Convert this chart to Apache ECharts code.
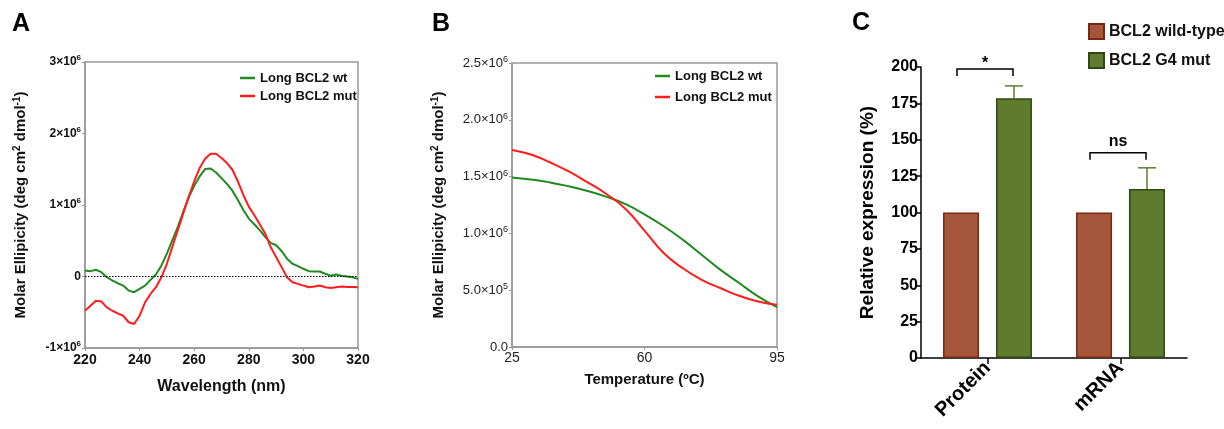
<!DOCTYPE html>
<html>
<head>
<meta charset="utf-8">
<script src="https://cdn.jsdelivr.net/npm/echarts@6/dist/echarts.min.js"></script>
<style>
html,body{margin:0;padding:0;background:#fff;}
#c{width:1224px;height:429px;}
</style>
</head>
<body>
<div id="c"></div>
<script>
// ---------- DATA ----------
// Panel A: CD spectra (values in units of 10^6 deg cm2 dmol-1)
const wavelengths = [220,222,224,226,228,230,232,234,236,238,240,242,244,246,248,250,252,254,256,258,260,262,264,266,268,270,272,274,276,278,280,282,284,286,288,290,292,294,296,298,300,302,304,306,308,310,312,314,316,318,320];
const cdWt  = [0.085,0.075,0.094,0.06,-0.01,-0.056,-0.094,-0.127,-0.197,-0.22,-0.174,-0.127,-0.047,0.028,0.155,0.32,0.507,0.695,0.906,1.108,1.268,1.40,1.502,1.51,1.455,1.376,1.296,1.20,1.07,0.93,0.81,0.73,0.648,0.554,0.47,0.437,0.357,0.249,0.178,0.146,0.108,0.075,0.07,0.07,0.038,0.01,0.028,0.01,0.0,-0.01,-0.033];
const cdMut = [-0.479,-0.408,-0.338,-0.35,-0.432,-0.479,-0.516,-0.549,-0.64,-0.665,-0.549,-0.362,-0.244,-0.15,-0.01,0.178,0.413,0.648,0.883,1.117,1.329,1.516,1.648,1.718,1.718,1.657,1.587,1.493,1.329,1.14,0.977,0.859,0.732,0.60,0.413,0.272,0.131,-0.01,-0.08,-0.103,-0.127,-0.15,-0.141,-0.127,-0.15,-0.16,-0.15,-0.141,-0.146,-0.146,-0.15];
// Panel B: melting curves (units of 10^6)
const temperatures = [25,30,35,40,45,50,55,60,65,70,75,80,85,90,95];
const meltWt  = [1.493,1.475,1.449,1.415,1.374,1.322,1.257,1.168,1.065,0.947,0.814,0.681,0.563,0.445,0.351];
const meltMut = [1.735,1.695,1.626,1.545,1.449,1.345,1.215,1.025,0.829,0.696,0.593,0.519,0.451,0.401,0.372];
// Panel C: relative expression
const exprCategories = ['Protein','mRNA'];
const exprWt  = [100,100];
const exprMut = [178.5,116.2];
const exprMutErr = [8.5,14.5];
const sigLabels = ['*','ns'];
const sigBracketY = [198.6,141];
const sigTextY = [202,148.5];
const seriesNamesAB = ['Long BCL2 wt','Long BCL2 mut'];
const seriesNamesC = ['BCL2 wild-type','BCL2 G4 mut'];

// ---------- STYLE ----------
const FONT = '"Liberation Sans", Arial, Helvetica, sans-serif';
const GREEN = '#1f8a1f', RED = '#ff1c1c';
const WT_FILL = '#a5563b', WT_EDGE = '#7a2812';
const MUT_FILL = '#5e7b2e', MUT_EDGE = '#2e4a12';
const BAR_W = 36, BAR_GAP = 17;
const BAR_OFF = (BAR_W + BAR_GAP) / 2;

function sciLabel(bold, fixed) {
  return function (v) {
    const real = v * 1e6;
    if (Math.abs(real) < 1e-9) return fixed ? '{b|0.0}' : '{b|0}';
    const e = Math.floor(Math.log10(Math.abs(real)) + 1e-9);
    const m = real / Math.pow(10, e);
    const ms = fixed ? m.toFixed(1) : String(Math.round(m * 100) / 100);
    return '{b|' + ms + '×10}{s|' + e + '}';
  };
}
function richLab(bold, size, color) {
  return {
    b: {fontFamily: FONT, fontSize: size, fontWeight: bold ? 'bold' : 'normal', color: color, lineHeight: 16},
    s: {fontFamily: FONT, fontSize: size - 4, fontWeight: bold ? 'bold' : 'normal', color: color, lineHeight: 8, verticalAlign: 'top'}
  };
}
const yNameRich = {s: {fontFamily: FONT, fontSize: 10, fontWeight: 'bold', color: '#111', lineHeight: 8, verticalAlign: 'top'}};

const chart = echarts.init(document.getElementById('c'), null, {renderer: 'canvas'});
const titleStyle = {fontFamily: FONT, fontSize: 25, fontWeight: 'bold', color: '#000'};
const option = {
  animation: false,
  textStyle: {fontFamily: FONT},
  title: [
    {text: 'A', left: 12, top: 12, padding: 0, textStyle: titleStyle},
    {text: 'B', left: 432, top: 12, padding: 0, textStyle: titleStyle},
    {text: 'C', left: 852, top: 11, padding: 0, textStyle: titleStyle}
  ],
  legend: [
    {data: seriesNamesAB, left: 240, top: 71, padding: 0, orient: 'vertical', icon: 'rect', itemWidth: 15, itemHeight: 2.5, itemGap: 4,
     textStyle: {fontFamily: FONT, fontSize: 13, fontWeight: 'bold', color: '#111', lineHeight: 14}},
    {data: seriesNamesAB, left: 655, top: 69, padding: 0, orient: 'vertical', icon: 'rect', itemWidth: 15, itemHeight: 2.5, itemGap: 7,
     textStyle: {fontFamily: FONT, fontSize: 13, fontWeight: 'bold', color: '#111', lineHeight: 14}},
    {data: seriesNamesC, left: 1088, top: 23, padding: 0, orient: 'vertical', icon: 'rect', itemWidth: 15, itemHeight: 15, itemGap: 12,
     textStyle: {fontFamily: FONT, fontSize: 16, fontWeight: 'bold', color: '#111', lineHeight: 15}}
  ],
  grid: [
    {left: 85, top: 62, width: 273, height: 286, show: true, borderColor: '#999', borderWidth: 1.5, backgroundColor: 'transparent'},
    {left: 512, top: 63, width: 265, height: 284, show: true, borderColor: '#999', borderWidth: 1.5, backgroundColor: 'transparent'},
    {left: 921, top: 67, width: 266, height: 291}
  ],
  xAxis: [
    {gridIndex: 0, type: 'value', min: 220, max: 320, interval: 20,
     axisLine: {show: true, onZero: false, lineStyle: {color: '#999', width: 1.5}},
     axisTick: {show: true, length: 3, lineStyle: {color: '#999'}},
     splitLine: {show: false},
     axisLabel: {fontFamily: FONT, fontSize: 14, fontWeight: 'bold', color: '#111', margin: 5},
     name: 'Wavelength (nm)', nameLocation: 'middle', nameGap: 31,
     nameTextStyle: {fontFamily: FONT, fontSize: 16, fontWeight: 'bold', color: '#111'}},
    {gridIndex: 1, type: 'value', min: 25, max: 95, interval: 35,
     axisLine: {show: true, onZero: false, lineStyle: {color: '#999', width: 1.5}},
     axisTick: {show: true, length: 3, lineStyle: {color: '#999'}},
     splitLine: {show: false},
     axisLabel: {fontFamily: FONT, fontSize: 14, color: '#222', margin: 4},
     name: 'Temperature (ºC)', nameLocation: 'middle', nameGap: 25,
     nameTextStyle: {fontFamily: FONT, fontSize: 15, fontWeight: 'bold', color: '#111'}},
    {gridIndex: 2, type: 'category', data: exprCategories,
     axisLine: {show: true, onZero: false, lineStyle: {color: '#000', width: 1.5}},
     axisTick: {show: true, alignWithLabel: true, length: 6, lineStyle: {color: '#000', width: 1.5}},
     axisLabel: {fontFamily: FONT, fontSize: 20, fontWeight: 'bold', color: '#000', rotate: 45, margin: 7}}
  ],
  yAxis: [
    {gridIndex: 0, type: 'value', min: -1, max: 3, interval: 1,
     axisLine: {show: true, onZero: false, lineStyle: {color: '#999', width: 1.5}},
     axisTick: {show: true, length: 3, lineStyle: {color: '#999'}},
     splitLine: {show: false},
     axisLabel: {formatter: sciLabel(true, false), rich: richLab(true, 12, '#111'), margin: 4},
     name: 'Molar Ellipicity (deg cm{s|2} dmol{s|-1})', nameLocation: 'middle', nameGap: 55,
     nameTextStyle: {fontFamily: FONT, fontSize: 15, fontWeight: 'bold', color: '#111', lineHeight: 18, rich: yNameRich}},
    {gridIndex: 1, type: 'value', min: 0, max: 2.5, interval: 0.5,
     axisLine: {show: true, onZero: false, lineStyle: {color: '#999', width: 1.5}},
     axisTick: {show: true, length: 3, lineStyle: {color: '#999'}},
     splitLine: {show: false},
     axisLabel: {formatter: sciLabel(false, true), rich: richLab(false, 13, '#222'), margin: 4},
     name: 'Molar Ellipicity (deg cm{s|2} dmol{s|-1})', nameLocation: 'middle', nameGap: 64,
     nameTextStyle: {fontFamily: FONT, fontSize: 15, fontWeight: 'bold', color: '#111', lineHeight: 18, rich: yNameRich}},
    {gridIndex: 2, type: 'value', min: 0, max: 200, interval: 25,
     axisLine: {show: true, onZero: false, lineStyle: {color: '#000', width: 1.5}},
     axisTick: {show: true, length: 5, lineStyle: {color: '#000', width: 1.5}},
     splitLine: {show: false},
     axisLabel: {fontFamily: FONT, fontSize: 16, fontWeight: 'bold', color: '#000', margin: 3},
     name: 'Relative expression (%)', nameLocation: 'middle', nameGap: 44,
     nameTextStyle: {fontFamily: FONT, fontSize: 19, fontWeight: 'bold', color: '#000'}}
  ],
  series: [
    {name: seriesNamesAB[0], type: 'line', xAxisIndex: 0, yAxisIndex: 0, showSymbol: false,
     data: wavelengths.map((w, i) => [w, cdWt[i]]), color: GREEN, lineStyle: {width: 2, color: GREEN},
     markLine: {silent: true, symbol: 'none', label: {show: false}, lineStyle: {type: [1.5, 1.5], color: '#000', width: 1},
       data: [{yAxis: 0}]}},
    {name: seriesNamesAB[1], type: 'line', xAxisIndex: 0, yAxisIndex: 0, showSymbol: false,
     data: wavelengths.map((w, i) => [w, cdMut[i]]), color: RED, lineStyle: {width: 2, color: RED}},
    {name: seriesNamesAB[0], type: 'line', xAxisIndex: 1, yAxisIndex: 1, showSymbol: false, smooth: true,
     data: temperatures.map((t, i) => [t, meltWt[i]]), color: GREEN, lineStyle: {width: 2, color: GREEN}},
    {name: seriesNamesAB[1], type: 'line', xAxisIndex: 1, yAxisIndex: 1, showSymbol: false, smooth: true,
     data: temperatures.map((t, i) => [t, meltMut[i]]), color: RED, lineStyle: {width: 2, color: RED}},
    {name: seriesNamesC[0], type: 'bar', xAxisIndex: 2, yAxisIndex: 2, data: exprWt,
     barWidth: BAR_W, barGap: (BAR_GAP / BAR_W * 100).toFixed(0) + '%',
     itemStyle: {color: WT_FILL, borderColor: WT_EDGE, borderWidth: 1.5}},
    {name: seriesNamesC[1], type: 'bar', xAxisIndex: 2, yAxisIndex: 2, data: exprMut,
     barWidth: BAR_W, barGap: (BAR_GAP / BAR_W * 100).toFixed(0) + '%',
     itemStyle: {color: MUT_FILL, borderColor: MUT_EDGE, borderWidth: 1.5}},
    {type: 'custom', xAxisIndex: 2, yAxisIndex: 2, silent: true, z: 1,
     data: exprMut.map((v, i) => [i, v, exprMutErr[i]]),
     renderItem: function (params, api) {
       const base = api.coord([api.value(0), api.value(1)]);
       const top = api.coord([api.value(0), api.value(1) + api.value(2)]);
       const x = base[0] + BAR_OFF;
       return {type: 'group', children: [
         {type: 'line', shape: {x1: x, y1: base[1], x2: x, y2: top[1]}, style: {stroke: MUT_FILL, lineWidth: 1.5}},
         {type: 'line', shape: {x1: x - 9, y1: top[1], x2: x + 9, y2: top[1]}, style: {stroke: MUT_FILL, lineWidth: 1.5}}
       ]};
     }},
    {type: 'custom', xAxisIndex: 2, yAxisIndex: 2, silent: true, z: 5,
     data: sigBracketY.map((h, i) => [i, h, sigTextY[i]]),
     renderItem: function (params, api) {
       const i = params.dataIndex;
       const c = api.coord([api.value(0), api.value(1)]);
       const t = api.coord([api.value(0), api.value(2)]);
       const x1 = c[0] - BAR_OFF - 4, x2 = c[0] + BAR_OFF - 1;
       const y = c[1];
       return {type: 'group', children: [
         {type: 'polyline', shape: {points: [[x1, y + 7], [x1, y], [x2, y], [x2, y + 7]]},
          style: {stroke: '#000', lineWidth: 1.5, fill: null}},
         {type: 'text', style: {text: sigLabels[i], x: (x1 + x2) / 2, y: t[1], textAlign: 'center', textVerticalAlign: 'middle',
          font: 'bold 16px ' + FONT, fill: '#000'}}
       ]};
     }}
  ]
};
chart.setOption(option);
</script>
</body>
</html>
